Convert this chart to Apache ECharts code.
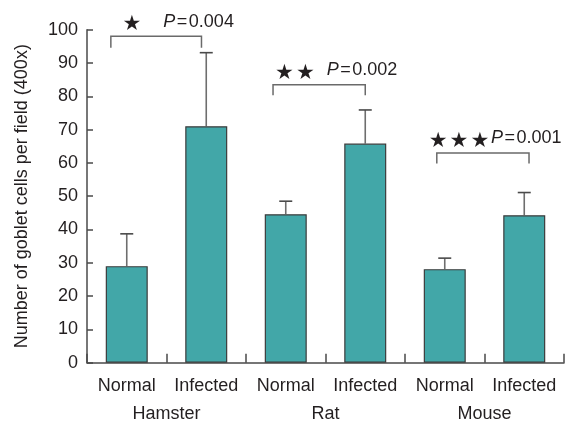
<!DOCTYPE html>
<html>
<head>
<meta charset="utf-8">
<script src="https://cdn.jsdelivr.net/npm/echarts@6/dist/echarts.min.js"></script>
<style>html,body{margin:0;padding:0;background:#fff;}#c{width:565px;height:423px;}</style>
</head>
<body>
<div id="c"></div>
<script>
const categories = ['Normal', 'Infected', 'Normal', 'Infected', 'Normal', 'Infected'];
const groups = ['Hamster', 'Rat', 'Mouse'];
const means = [29.0, 71.0, 44.6, 65.8, 28.1, 44.3];
const upperErr = [38.7, 93.1, 48.5, 75.9, 31.4, 51.1];
const yMin = 0, yMax = 100, yStep = 10;
const yTitle = 'Number of goblet cells per field (400x)';
// significance brackets (x in category-slot units, 0..6)
const bracketLeft = [0.30, 2.34, 4.40];
const bracketRight = [1.44, 3.50, 5.56];
const bracketTop = [98.0, 83.5, 63.0];
const bracketLeg = [94.6, 80.3, 59.8];
const starLabels = ['\u2605', '\u2605\u200a\u2605', '\u2605\u200a\u2605\u200a\u2605'];
const pValues = ['0.004', '0.002', '0.001'];
const starX = [0.566, 2.616, 4.679];
const starY = [101.6, 86.8, 66.5];
const pX = [0.960, 3.015, 5.082];
const pY = [102.2, 87.8, 67.4];

const FONT = '"Liberation Sans", Arial, Helvetica, sans-serif';
const TXT = '#231f20';

const chart = echarts.init(document.getElementById('c'), null, {renderer: 'canvas'});

const errData = means.map((m, i) => [i, m, upperErr[i]]);
const bracketData = bracketLeft.map((l, i) => [l, bracketRight[i], bracketTop[i], bracketLeg[i]]);
const annData = [];
starLabels.forEach((s, i) => annData.push({value: [starX[i], starY[i]], kind: 'star', text: s}));
pValues.forEach((p, i) => annData.push({value: [pX[i], pY[i]], kind: 'p', text: p}));

chart.setOption({
  animation: false,
  grid: {left: 87, right: 1, top: 29.7, bottom: 60.3, containLabel: false},
  xAxis: [
    {
      type: 'category', data: categories, position: 'bottom',
      axisLine: {lineStyle: {color: '#4a4a4a', width: 1.5}},
      axisTick: {show: true, inside: true, length: 9, lineStyle: {color: '#4a4a4a', width: 1.5}},
      axisLabel: {fontFamily: FONT, fontSize: 18, color: TXT, margin: 14, interval: 0},
      splitLine: {show: false}
    },
    {
      type: 'category', data: groups, position: 'bottom', offset: 28,
      axisLine: {show: false}, axisTick: {show: false},
      axisLabel: {fontFamily: FONT, fontSize: 18, color: TXT, margin: 14, interval: 0},
      splitLine: {show: false}
    },
    {type: 'value', min: 0, max: 6, show: false}
  ],
  yAxis: {
    type: 'value', min: yMin, max: yMax, interval: yStep,
    name: yTitle, nameLocation: 'middle', nameGap: 56,
    nameTextStyle: {fontFamily: FONT, fontSize: 18, color: TXT},
    axisLine: {show: true, lineStyle: {color: '#4a4a4a', width: 1.5}},
    axisTick: {show: true, inside: true, length: 6, lineStyle: {color: '#4a4a4a', width: 1.5}},
    axisLabel: {fontFamily: FONT, fontSize: 18, color: TXT, margin: 9},
    splitLine: {show: false}
  },
  series: [
    {
      type: 'bar', data: means, xAxisIndex: 0, barWidth: 42,
      itemStyle: {color: '#42a7a8', borderColor: '#3c3c3c', borderWidth: 1.2}
    },
    {
      type: 'custom', xAxisIndex: 0, data: errData, clip: false, z: 1,
      renderItem: function (params, api) {
        const b = api.coord([api.value(0), api.value(1)]);
        const t = api.coord([api.value(0), api.value(2)]);
        const hw = 6.5;
        return {
          type: 'group', children: [
            {type: 'line', shape: {x1: b[0], y1: b[1], x2: t[0], y2: t[1]}, style: {stroke: '#6e6e6e', lineWidth: 1.6}},
            {type: 'line', shape: {x1: t[0] - hw, y1: t[1], x2: t[0] + hw, y2: t[1]}, style: {stroke: '#4a4a4a', lineWidth: 1.6}}
          ]
        };
      }
    },
    {
      type: 'custom', xAxisIndex: 2, data: bracketData, clip: false,
      renderItem: function (params, api) {
        const l = api.coord([api.value(0), api.value(2)]);
        const r = api.coord([api.value(1), api.value(2)]);
        const lb = api.coord([api.value(0), api.value(3)]);
        return {
          type: 'polyline',
          shape: {points: [[l[0], lb[1]], l, r, [r[0], lb[1]]]},
          style: {stroke: '#6a6a6a', lineWidth: 1.5, fill: null}
        };
      }
    },
    {
      type: 'custom', xAxisIndex: 2, data: annData, clip: false,
      renderItem: function (params, api) {
        const d = annData[params.dataIndex];
        const p = api.coord([api.value(0), api.value(1)]);
        if (d.kind === 'star') {
          return {
            type: 'text', x: p[0], y: p[1],
            style: {text: d.text, fontFamily: '"DejaVu Sans", sans-serif', fontSize: 21, fill: TXT, align: 'center', verticalAlign: 'middle'}
          };
        }
        return {
          type: 'text', x: p[0], y: p[1],
          style: {
            text: '{i|P}{n|\u200a=\u200a' + d.text + '}',
            align: 'left', verticalAlign: 'middle',
            rich: {
              i: {fontFamily: FONT, fontStyle: 'italic', fontSize: 18, fill: TXT},
              n: {fontFamily: FONT, fontSize: 18, fill: TXT}
            }
          }
        };
      }
    }
  ]
});
</script>
</body>
</html>
